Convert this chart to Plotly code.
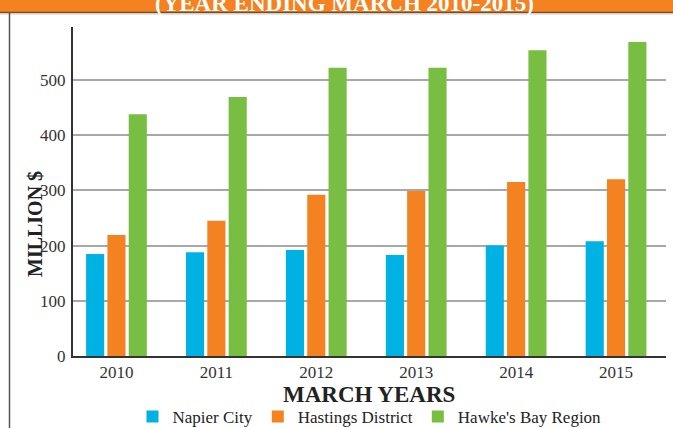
import plotly.graph_objects as go

years = ["2010", "2011", "2012", "2013", "2014", "2015"]
napier = [185, 188, 192, 183, 200, 208]
hastings = [219, 245, 292, 299, 315, 320]
hawkes_bay = [438, 469, 522, 522, 554, 569]
series_names = ["Napier City", "Hastings District", "Hawke's Bay Region"]
colors = ["#00B2E3", "#F58220", "#78BE43"]
y_ticks = [0, 100, 200, 300, 400, 500]

W, H = 673, 428
L, R, T, B = 73, 7, 27, 72
pw, ph = W - L - R, H - T - B

def px(x):
    return (x - L) / pw

def py(y):
    return (H - B - y) / ph

FONT = "Liberation Serif"

fig = go.Figure()
for name, vals, col in zip(series_names, [napier, hastings, hawkes_bay], colors):
    fig.add_trace(go.Bar(x=years, y=vals, name=name, marker=dict(color=col, line=dict(width=0))))

fig.update_layout(
    width=W, height=H,
    margin=dict(l=L, r=R, t=T, b=B, autoexpand=False),
    paper_bgcolor="white", plot_bgcolor="white",
    barmode="group", bargap=0.36, bargroupgap=0.15,
    font=dict(family=FONT, color="#333333", size=14),
    showlegend=True,
    legend=dict(orientation="h", x=0.5, xanchor="center", y=py(417), yanchor="middle",
                font=dict(family=FONT, size=17, color="#222222"),
                itemwidth=30, tracegroupgap=0, bgcolor="rgba(0,0,0,0)"),
    xaxis=dict(range=[-0.435, 5.5], showline=True, linecolor="#333333", linewidth=2,
               ticks="", showgrid=False, tickfont=dict(family=FONT, size=17, color="#333333"),
               fixedrange=True, automargin=False),
    yaxis=dict(range=[0, 596], tickvals=y_ticks, showline=True, linecolor="#333333", linewidth=2,
               showgrid=True, gridcolor="#a8a8a8", gridwidth=1.5, zeroline=False,
               ticks="", tickfont=dict(family=FONT, size=17, color="#333333"), ticklabelstandoff=2,
               automargin=False),
)

# axis titles as annotations
fig.add_annotation(text="<b>MARCH YEARS</b>", xref="paper", yref="paper", x=px(369), y=py(394),
                   xanchor="center", yanchor="middle", showarrow=False,
                   font=dict(family=FONT, size=23, color="#222222"))
fig.add_annotation(text="<b>MILLION $</b>", xref="paper", yref="paper", x=px(35), y=py(224),
                   xanchor="center", yanchor="middle", showarrow=False, textangle=-90,
                   font=dict(family=FONT, size=20, color="#222222"))

# header band
fig.add_shape(type="rect", xref="paper", yref="paper", x0=px(0), x1=px(W), y0=py(12), y1=py(-5),
              fillcolor="#F58220", line=dict(width=0), layer="above")
fig.add_shape(type="line", xref="paper", yref="paper", x0=px(0), x1=px(W), y0=py(12.5), y1=py(12.5),
              line=dict(color="#7a4a22", width=1.5))
fig.add_shape(type="line", xref="paper", yref="paper", x0=px(0), x1=px(W), y0=py(14), y1=py(14),
              line=dict(color="#cccccc", width=1))
fig.add_annotation(text="<b>(YEAR ENDING MARCH 2010-2015)</b>", xref="paper", yref="paper",
                   x=px(344), y=py(18), xanchor="center", yanchor="bottom", showarrow=False,
                   font=dict(family=FONT, size=23, color="white"))
# left border
fig.add_shape(type="line", xref="paper", yref="paper", x0=px(9.5), x1=px(9.5), y0=py(13), y1=py(H + 5),
              line=dict(color="#555555", width=1.5))

fig.write_html("out.html", config={"displayModeBar": False},
               post_script="document.body.style.margin='0';")
